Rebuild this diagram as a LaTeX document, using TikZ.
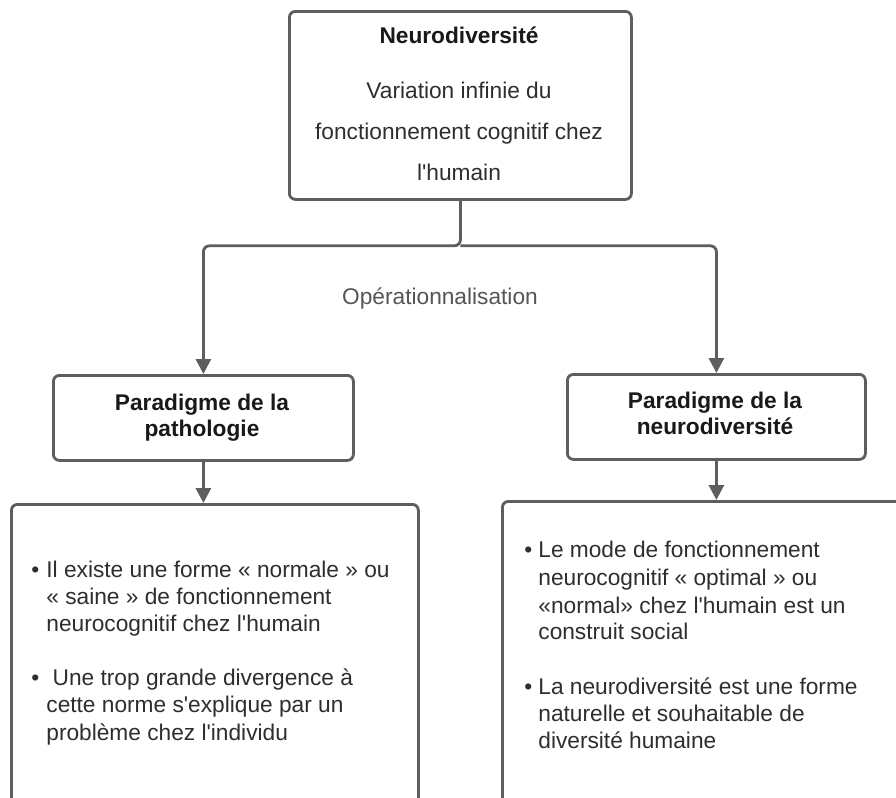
\documentclass[tikz,border=0pt]{standalone}
\usepackage{fontspec}
\setmainfont{Liberation Sans}
\usetikzlibrary{arrows.meta,calc}
\definecolor{linegray}{HTML}{5E5E5E}
\definecolor{txtgray}{HTML}{2E2E2E}
\definecolor{labgray}{HTML}{555555}
\newcommand{\apos}{\textquotesingle}
\begin{document}
\begin{tikzpicture}[x=0.5pt,y=-0.5pt,
  box/.style={draw=linegray, line width=1.4pt, rounded corners=3pt, fill=white, inner sep=0pt, anchor=north west},
  conn/.style={draw=linegray, line width=1.4pt, rounded corners=3pt, -{Triangle[length=7.5pt,width=7.5pt]}},
  txt/.style={inner sep=0pt, text=txtgray, font=\fontsize{11.35}{13.75}\selectfont},
  ttl/.style={txt, font=\fontsize{11.35}{13.75}\selectfont\bfseries, text=black!90},
  line/.style={txt, anchor=base west},
  cline/.style={txt, anchor=base},
  tline/.style={ttl, anchor=base}]
\clip (0,0) rectangle (896,798);
\fill[white] (0,0) rectangle (896,798);
% boxes
\node[box, minimum width=171pt, minimum height=94pt] (top) at (288,10) {};
\node[box, minimum width=150pt, minimum height=42.5pt] (lp) at (52,374) {};
\node[box, minimum width=149pt, minimum height=42.5pt] (rp) at (566,373) {};
\node[box, minimum width=203.5pt, minimum height=170pt] (lb) at (10,503) {};
\node[box, minimum width=219.5pt, minimum height=170pt] (rb) at (501,500) {};
% top box text
\node[tline] (t1) at (459,43) {Neurodiversité};
\node[cline] (t2) at (459,98) {Variation infinie du};
\node[cline] (t3) at (459,139) {fonctionnement cognitif chez};
\node[cline] (t4) at (459,180) {l\apos humain};
% paradigm titles
\node[tline] (lp1) at (202,410) {Paradigme de la};
\node[tline] (lp2) at (202,436) {pathologie};
\node[tline] (rp1) at (715,408) {Paradigme de la};
\node[tline] (rp2) at (715,434) {neurodiversité};
% label
\node[cline, text=labgray] (op) at (440,304) {Opérationnalisation};
% connectors
\coordinate (split) at ($(top.south)+(0,45)$);
\draw[conn] (top.south) -- (split) -| (lp.north);
\draw[conn] (split) -| (rp.north);
\draw[conn] (lp.south) -- (lp.south |- lb.north);
\draw[conn] (rp.south) -- (rp.south |- rb.north);
% left bullets
\node[line] (lb0) at (31,577) {•};
\node[line] (lb1) at (46,577) {Il existe une forme « normale » ou};
\node[line] (lb2) at (46,604) {« saine » de fonctionnement};
\node[line] (lb3) at (46,631) {neurocognitif chez l\apos humain};
\node[line] (lb4) at (31,685) {•};
\node[line] (lb5) at (46,685) {\ Une trop grande divergence à};
\node[line] (lb6) at (46,712) {cette norme s\apos explique par un};
\node[line] (lb7) at (46,740) {problème chez l\apos individu};
% right bullets
\node[line] (rb0) at (524,557) {•};
\node[line] (rb1) at (538,557) {Le mode de fonctionnement};
\node[line] (rb2) at (538,585) {neurocognitif « optimal » ou};
\node[line] (rb3) at (538,613) {«normal» chez l\apos humain est un};
\node[line] (rb4) at (538,639) {construit social};
\node[line] (rb5) at (524,694) {•};
\node[line] (rb6) at (538,694) {La neurodiversité est une forme};
\node[line] (rb7) at (538,721) {naturelle et souhaitable de};
\node[line] (rb8) at (538,748) {diversité humaine};
\end{tikzpicture}
\end{document}
